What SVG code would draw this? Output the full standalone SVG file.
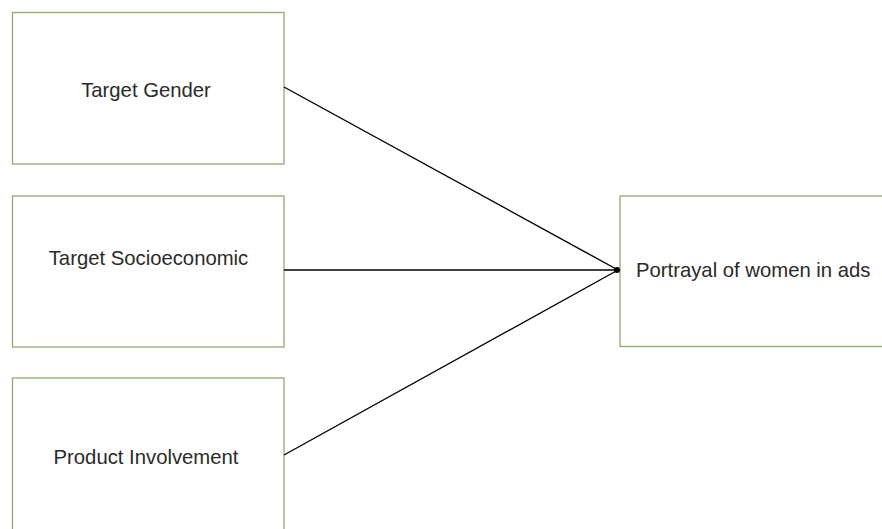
<svg xmlns="http://www.w3.org/2000/svg" width="882" height="529" viewBox="0 0 882 529">
<style>
.box{fill:#ffffff;stroke:#8fac6e;stroke-width:1.3}
.lbl{font-family:"Liberation Sans",Arial,sans-serif;font-size:20.3px;fill:#2a2a2a}
.edge{stroke:#000000;stroke-width:1.4;fill:none}
</style>
<rect width="882" height="529" fill="#ffffff"/>
<g id="node-gender">
<rect class="box" x="12.5" y="12.5" width="271.5" height="151.5"/>
<text class="lbl" x="146" y="97" text-anchor="middle">Target Gender</text>
</g>
<g id="node-socio">
<rect class="box" x="12.5" y="196" width="271.5" height="151"/>
<text class="lbl" x="148.5" y="265" text-anchor="middle">Target Socioeconomic</text>
</g>
<g id="node-product">
<rect class="box" x="12.5" y="378" width="271.5" height="160"/>
<text class="lbl" x="146" y="464" text-anchor="middle">Product Involvement</text>
</g>
<g id="node-portrayal">
<rect class="box" x="620" y="196" width="270" height="150.5"/>
<text class="lbl" x="636" y="277">Portrayal of women in ads</text>
</g>
<g id="connectors">
<line class="edge" x1="284" y1="87" x2="618" y2="270"/>
<line class="edge" x1="284" y1="270" x2="618" y2="270"/>
<line class="edge" x1="284" y1="455" x2="618" y2="270"/>
<circle cx="617" cy="270" r="3" fill="#000000"/>
</g>
</svg>
